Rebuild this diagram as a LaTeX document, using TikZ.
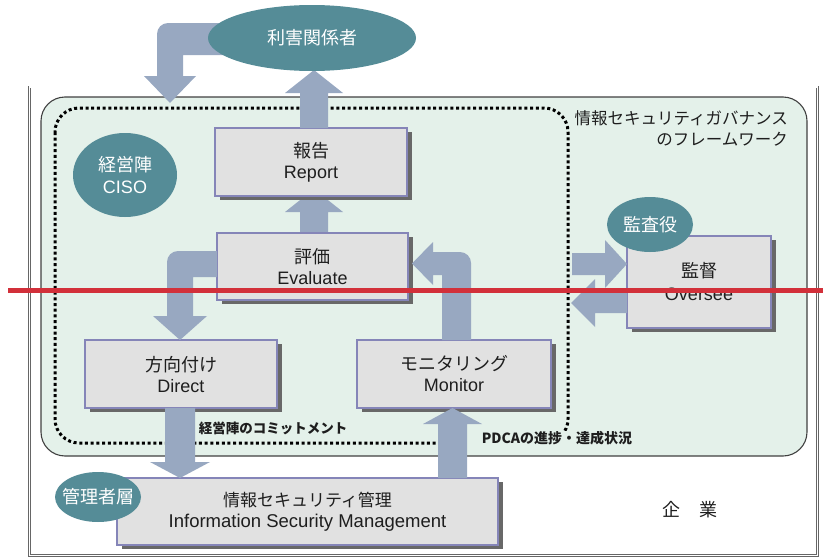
\documentclass[tikz,border=0pt]{standalone}
\usepackage{fontspec}
\setmainfont{Liberation Sans}
\newfontfamily\jp{Noto Sans CJK JP}
\usetikzlibrary{shadows}
\definecolor{tealc}{HTML}{558C97}
\definecolor{arrowc}{HTML}{98A8C1}
\definecolor{greenbg}{HTML}{E4F1EA}
\definecolor{boxfill}{HTML}{E1E1E1}
\definecolor{boxline}{HTML}{8585B8}
\definecolor{shadowc}{HTML}{686868}
\definecolor{redc}{HTML}{D2303A}
\definecolor{txt}{HTML}{1E1E1E}
\begin{document}
\begin{tikzpicture}[x=1pt,y=-1pt,
  blockarrow/.style={fill=arrowc, draw=none},
  procbox/.style={rectangle, draw=boxline, line width=1.4pt, fill=boxfill,
    inner sep=0pt, outer sep=0pt, align=center, text=txt,
    font=\fontsize{18}{21}\selectfont,
    drop shadow={shadow xshift=5pt, shadow yshift=-4pt, fill=shadowc, opacity=1}},
  blobtext/.style={text=white, align=center, inner sep=0pt, font=\jp\fontsize{18}{22}\selectfont},
  labeltext/.style={text=txt, inner sep=0pt}]
\useasboundingbox (0,0) rectangle (823,557);
% enterprise frame
\draw[draw=black!60, double=white, double distance=1.2pt, line width=0.7pt] (29.5,87) rectangle (817.5,555.5);
% governance framework
\draw[fill=greenbg, draw=black!75, line width=1.1pt, rounded corners=24pt] (41,97) rectangle (807,456);
\draw[line width=3pt, dash pattern=on 3pt off 2.7pt, rounded corners=24pt] (55,108) rectangle (568,443);
\fill[greenbg] (466,431) rectangle (580,452);
% arrow evaluate -> report (tip hidden below report)
\fill[blockarrow] (300,235) -- (300,212) -- (285,212) -- (314,189) -- (343,212) -- (328,212) -- (328,235) -- cycle;
% boxes
\node[procbox, minimum width=192pt, minimum height=68pt] (report) at (311,162) {{\jp 報告}\\Report};
\node[procbox, minimum width=191pt, minimum height=67pt] (evaluate) at (312.5,266.5) {{\jp 評価}\\Evaluate};
\node[procbox, minimum width=192pt, minimum height=68pt] (direct) at (181,374) {{\jp 方向付け}\\Direct};
\node[procbox, minimum width=194pt, minimum height=68pt] (monitor) at (454,374) {{\jp モニタリング}\\Monitor};
\node[procbox, minimum width=144pt, minimum height=92pt] (oversee) at (699,282) {{\jp 監督}\\[2pt]Oversee};
\node[procbox, minimum width=381pt, minimum height=67pt] (infosec) at (307.5,511.5) {{\jp\fontsize{17}{21}\selectfont 情報セキュリティ管理}\\{\fontsize{18.5}{21}\selectfont Information Security Management}};
% arrow stakeholders -> enterprise
\fill[blockarrow] (245,23) -- (168,23) .. controls (161.9,23) and (157,27.9) .. (157,34) -- (157,76) -- (144,76) -- (170,103) -- (196,76) -- (183,76) -- (183,55) -- (245,55) -- cycle;
% arrow report -> stakeholders
\fill[blockarrow] (300,128) -- (300,93) -- (285,93) -- (314,70) -- (343,93) -- (328,93) -- (328,128) -- cycle;
% arrow evaluate -> direct
\fill[blockarrow] (217,251) -- (178,251) .. controls (171.9,251) and (167,255.9) .. (167,262) -- (167,316) -- (153,316) -- (180,340) -- (207,316) -- (193,316) -- (193,277) -- (217,277) -- cycle;
% arrow monitor -> evaluate
\fill[blockarrow] (442,340) -- (442,275) -- (433,275) -- (433,285) -- (412,263.5) -- (433,242) -- (433,252) -- (460,252) .. controls (466.1,252) and (471,256.9) .. (471,263) -- (471,340) -- cycle;
% arrows framework <-> oversee
\fill[blockarrow] (572,253) -- (605,253) -- (605,240) -- (627,264) -- (605,288) -- (605,275) -- (572,275) -- cycle;
\fill[blockarrow] (627,293) -- (595,293) -- (595,279) -- (571,303) -- (595,327) -- (595,313) -- (627,313) -- cycle;
% arrow direct -> infosec
\fill[blockarrow] (165,408) -- (165,462) -- (150,462) -- (180,478) -- (210,462) -- (195,462) -- (195,408) -- cycle;
% arrow infosec -> monitor
\fill[blockarrow] (438,478) -- (438,424) -- (423,424) -- (452.5,408) -- (482,424) -- (467,424) -- (467,478) -- cycle;
% role ellipses
\fill[tealc] (312,38) ellipse[x radius=104pt, y radius=33pt];
\node[blobtext] (stake) at (312,38) {利害関係者};
\fill[tealc] (125,175) ellipse[x radius=52pt, y radius=42pt];
\node[blobtext] (ciso) at (125,175) {経営陣\\{\rmfamily CISO}};
\fill[tealc] (650,224.5) ellipse[x radius=43pt, y radius=27.5pt];
\node[blobtext] (auditor) at (650,224.5) {監査役};
\fill[tealc] (98,497) ellipse[x radius=43pt, y radius=25pt];
\node[blobtext] (mgr) at (98,497) {管理者層};
% labels
\node[labeltext, anchor=north east, align=right, font=\jp\fontsize{16.5}{21}\selectfont] (fw) at (788,110) {情報セキュリティガバナンス\\のフレームワーク};
\node[labeltext, font=\jp\bfseries\fontsize{13.5}{16}\selectfont] (commit) at (273,428) {経営陣のコミットメント};
\node[labeltext, font=\jp\bfseries\fontsize{14}{16}\selectfont] (pdca) at (557,438) {PDCAの進捗・達成状況};
\node[labeltext, font=\jp\fontsize{18}{21}\selectfont] (corp) at (690,510) {企\hspace{19pt}業};
% red line
\draw[redc, line width=4.4pt] (8,290.5) -- (823,290.5);
\end{tikzpicture}
\end{document}
